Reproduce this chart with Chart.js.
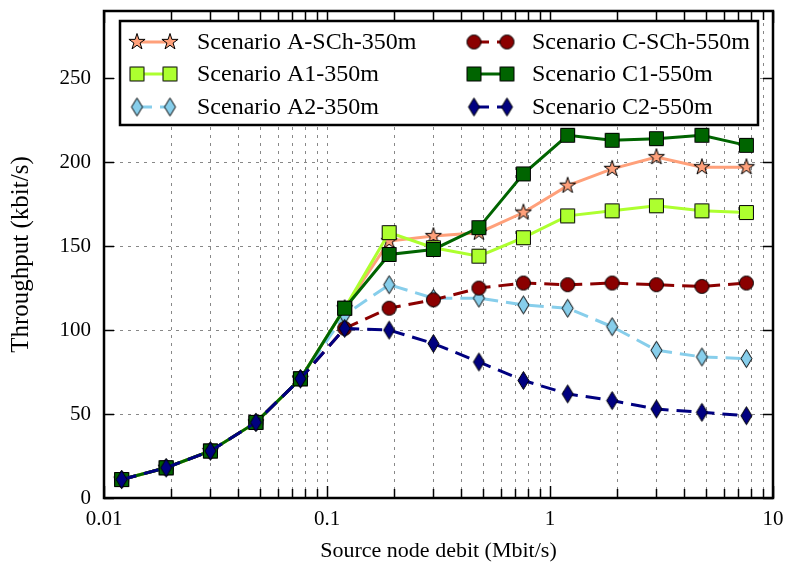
<!DOCTYPE html>
<html>
<head>
<meta charset="utf-8">
<script src="https://cdn.jsdelivr.net/npm/chart.js@4.4.0/dist/chart.umd.min.js"></script>
<style>
  html, body { margin: 0; padding: 0; background: #fff; }
  #wrap { width: 789px; height: 572px; }
</style>
</head>
<body>
<div id="wrap"><canvas id="chart" width="789" height="572"></canvas></div>
<script>
// source rates (Mbit/s)
const rates = [0.012, 0.019, 0.030, 0.048, 0.076, 0.12, 0.19, 0.30, 0.48, 0.76, 1.2, 1.9, 3.0, 4.8, 7.6];

// throughput per scenario (kbit/s)
const scenarioASCh = [11, 18, 28, 45, 71, 113, 153, 156, 158, 170, 186, 196, 203, 197, 197];
const scenarioA1   = [11, 18, 28, 45, 71, 113, 158, 149, 144, 155, 168, 171, 174, 171, 170];
const scenarioA2   = [11, 18, 28, 45, 71, 109, 127, 119, 119, 115, 113, 102, 88, 84, 83];
const scenarioCSCh = [11, 18, 28, 45, 71, 101, 113, 118, 125, 128, 127, 128, 127, 126, 128];
const scenarioC1   = [11, 18, 28, 45, 71, 113, 145, 148, 161, 193, 216, 213, 214, 216, 210];
const scenarioC2   = [11, 18, 28, 45, 71, 101, 100, 92, 81, 70, 62, 58, 53, 51, 49];

const seriesNames = ['Scenario A-SCh-350m', 'Scenario A1-350m', 'Scenario A2-350m',
                     'Scenario C-SCh-550m', 'Scenario C1-550m', 'Scenario C2-550m'];

const yTicks = [0, 50, 100, 150, 200, 250];
const xMajor = [0.01, 0.1, 1, 10];
const xGrid = [];
[0.01, 0.1, 1].forEach(d => { for (let k = 1; k < 10; k++) xGrid.push(+(d * k).toPrecision(3)); });
xGrid.push(10);

const serif = "'Liberation Serif', 'Times New Roman', serif";
Chart.defaults.font.family = serif;
Chart.defaults.color = '#000';

// marker sprites, black edged like the plotting defaults
function sprite(w, h, fill, path) {
  const c = document.createElement('canvas');
  c.width = w; c.height = h;
  const g = c.getContext('2d');
  g.beginPath();
  path(g, w / 2, h / 2);
  g.closePath();
  g.fillStyle = fill;
  g.fill();
  g.lineWidth = 1;
  g.strokeStyle = '#000';
  g.stroke();
  return c;
}
const star = fill => sprite(20, 20, fill, (g, cx, cy) => {
  const R = 8.5, r = R * 0.382;
  for (let i = 0; i < 10; i++) {
    const a = -Math.PI / 2 + i * Math.PI / 5;
    const rr = i % 2 ? r : R;
    g.lineTo(cx + rr * Math.cos(a), cy + rr * Math.sin(a));
  }
});
const square = fill => sprite(17, 17, fill, (g, cx, cy) => {
  g.rect(cx - 7, cy - 7, 14, 14);
});
const circle = fill => sprite(17, 17, fill, (g, cx, cy) => {
  g.arc(cx, cy, 7, 0, Math.PI * 2);
});
const diamond = fill => sprite(15, 21, fill, (g, cx, cy) => {
  g.moveTo(cx, cy - 9); g.lineTo(cx + 5.5, cy); g.lineTo(cx, cy + 9); g.lineTo(cx - 5.5, cy);
});

const styles = [
  { color: '#FFA07A', dash: [], marker: star('#FFA07A') },
  { color: '#ADFF2F', dash: [], marker: square('#ADFF2F') },
  { color: '#87CEEB', dash: [15, 8], marker: diamond('#87CEEB') },
  { color: '#8B0000', dash: [15, 8], marker: circle('#8B0000') },
  { color: '#006400', dash: [], marker: square('#006400') },
  { color: '#000080', dash: [15, 8], marker: diamond('#000080') }
];
const series = [scenarioASCh, scenarioA1, scenarioA2, scenarioCSCh, scenarioC1, scenarioC2];

const datasets = series.map((vals, i) => ({
  label: seriesNames[i],
  data: vals.map((v, j) => ({ x: rates[j], y: v })),
  borderColor: styles[i].color,
  borderWidth: 3,
  borderDash: styles[i].dash,
  pointStyle: styles[i].marker,
  pointRadius: 8,
  tension: 0,
  fill: false,
  order: series.length - i
}));

// dashed grid, inward ticks on all four sides and the black frame
const axesFrame = {
  id: 'axesFrame',
  beforeDatasetsDraw(chart) {
    const { ctx, chartArea: a, scales: { x, y } } = chart;
    ctx.save();
    ctx.strokeStyle = '#888';
    ctx.lineWidth = 1;
    ctx.setLineDash([3, 5]);
    xGrid.forEach(v => {
      const px = Math.round(x.getPixelForValue(v)) + 0.5;
      ctx.beginPath(); ctx.moveTo(px, a.bottom); ctx.lineTo(px, a.top); ctx.stroke();
    });
    yTicks.forEach(v => {
      const py = Math.round(y.getPixelForValue(v)) + 0.5;
      ctx.beginPath(); ctx.moveTo(a.left, py); ctx.lineTo(a.right, py); ctx.stroke();
    });
    ctx.restore();
  },
  afterDatasetsDraw(chart) {
    const { ctx, chartArea: a, scales: { x, y } } = chart;
    ctx.save();
    ctx.strokeStyle = '#000';
    ctx.lineWidth = 1.5;
    xGrid.forEach(v => {
      const px = Math.round(x.getPixelForValue(v)) + 0.5;
      const len = xMajor.includes(v) ? 12 : 9;
      ctx.beginPath();
      ctx.moveTo(px, a.bottom); ctx.lineTo(px, a.bottom - len);
      ctx.moveTo(px, a.top); ctx.lineTo(px, a.top + len);
      ctx.stroke();
    });
    yTicks.forEach(v => {
      const py = Math.round(y.getPixelForValue(v)) + 0.5;
      ctx.beginPath();
      ctx.moveTo(a.left, py); ctx.lineTo(a.left + 10, py);
      ctx.moveTo(a.right, py); ctx.lineTo(a.right - 10, py);
      ctx.stroke();
    });
    ctx.lineWidth = 2.5;
    ctx.strokeRect(a.left, a.top, a.right - a.left, a.bottom - a.top);
    ctx.restore();
  }
};

// two-column legend with a marker at each end of the handle
const boxLegend = {
  id: 'boxLegend',
  afterDraw(chart) {
    const { ctx } = chart;
    const box = { l: 120, t: 21, r: 758, b: 125 };
    const rows = [42, 74, 107];
    const cols = [{ m1: 137, m2: 170, tx: 197 }, { m1: 474, m2: 507, tx: 532 }];
    ctx.save();
    ctx.fillStyle = '#fff';
    ctx.fillRect(box.l, box.t, box.r - box.l, box.b - box.t);
    ctx.lineWidth = 2.5;
    ctx.strokeStyle = '#000';
    ctx.strokeRect(box.l, box.t, box.r - box.l, box.b - box.t);
    chart.data.datasets.forEach((ds, i) => {
      const col = cols[Math.floor(i / 3)];
      const yy = rows[i % 3];
      ctx.setLineDash(styles[i].dash);
      ctx.strokeStyle = styles[i].color;
      ctx.lineWidth = 3;
      ctx.beginPath(); ctx.moveTo(col.m1, yy); ctx.lineTo(col.m2, yy); ctx.stroke();
      ctx.setLineDash([]);
      const m = styles[i].marker;
      ctx.drawImage(m, col.m1 - m.width / 2, yy - m.height / 2);
      ctx.drawImage(m, col.m2 - m.width / 2, yy - m.height / 2);
      ctx.fillStyle = '#000';
      ctx.font = "24px " + serif;
      ctx.textBaseline = 'middle';
      ctx.textAlign = 'left';
      ctx.fillText(ds.label, col.tx, yy + 1);
    });
    ctx.restore();
  }
};

const tickFont = { family: serif, size: 21 };
const noPad = s => { s.paddingTop = 0; s.paddingBottom = 0; s.paddingLeft = 0; s.paddingRight = 0; };

new Chart(document.getElementById('chart'), {
  type: 'line',
  data: { datasets },
  options: {
    responsive: false,
    animation: false,
    layout: { padding: { top: 10, right: 16, left: 0, bottom: 0 } },
    plugins: { legend: { display: false }, tooltip: { enabled: false } },
    scales: {
      x: {
        type: 'logarithmic',
        min: 0.01,
        max: 10,
        afterBuildTicks: s => { s.ticks = xGrid.map(v => ({ value: v })); },
        afterFit: s => { s.height = 74; noPad(s); },
        grid: { display: false, drawTicks: false },
        border: { display: false },
        ticks: {
          font: tickFont, color: '#000', padding: 9, autoSkip: false, maxRotation: 0,
          callback: v => xMajor.includes(v) ? String(v) : ''
        },
        title: { display: true, text: 'Source node debit (Mbit/s)', font: { family: serif, size: 22 }, color: '#000', padding: { top: 0, bottom: 8 } }
      },
      y: {
        min: 0,
        max: 290,
        afterBuildTicks: s => { s.ticks = yTicks.map(v => ({ value: v })); },
        afterFit: s => { s.width = 104; noPad(s); },
        grid: { display: false, drawTicks: false },
        border: { display: false },
        ticks: { font: tickFont, color: '#000', padding: 13 },
        title: { display: true, text: 'Throughput (kbit/s)', font: { family: serif, size: 25 }, color: '#000', padding: { top: 6, bottom: 0 } }
      }
    }
  },
  plugins: [axesFrame, boxLegend]
});
</script>
</body>
</html>
